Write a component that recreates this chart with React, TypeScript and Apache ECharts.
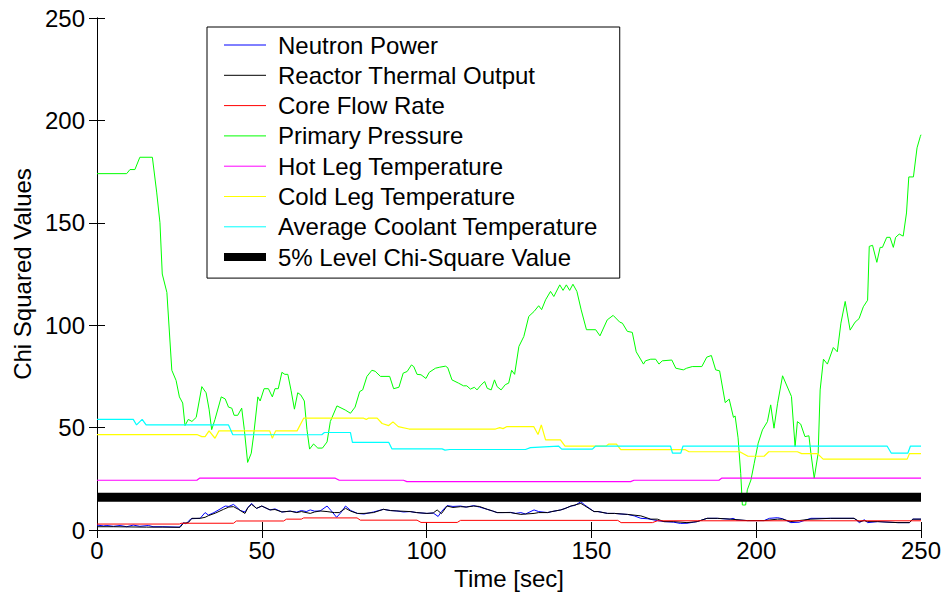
import React, { useEffect, useRef } from "react";
import * as echarts from "echarts";

const xTicks = [0, 50, 100, 150, 200, 250];
const yTicks = [0, 50, 100, 150, 200, 250];

const seriesNames = [
  "Neutron Power",
  "Reactor Thermal Output",
  "Core Flow Rate",
  "Primary Pressure",
  "Hot Leg Temperature",
  "Cold Leg Temperature",
  "Average Coolant Temperature",
  "5% Level Chi-Square Value",
];

const neutronPower: [number, number][] = [
  [0, 2.4], [2, 2.0], [3, 2.2], [5, 1.8], [7, 2.2], [9, 1.6], [11, 2.4], [13, 1.8], [15.6, 2.2], [17, 1.6],
  [20, 1.6], [25, 1.4], [26.2, 3.6], [27, 3.0], [28.5, 5.5], [31.3, 5.7], [32.8, 8.5], [33.8, 7.3], [35.5, 8.5],
  [38.9, 11.7], [40, 11.5], [41.4, 12.5], [42.5, 11], [43.5, 9.5], [44.9, 8.8], [45.8, 11], [46.9, 13], [48.4, 10.5],
  [50, 11.7], [52.5, 9.8], [54, 10.3], [56.1, 8.8], [58.6, 9.2], [60.6, 8.7], [62, 9.5], [63.5, 9], [64.7, 9.8],
  [66, 9.2], [67.7, 9.3], [69.8, 11.7], [71, 9.5], [72.7, 6.2], [74, 8.5], [75.4, 11.7], [77, 9.5], [79, 8.1],
  [81, 7.8], [83.9, 8.8], [86.9, 10.1], [89, 9.5], [91, 9.3], [93, 8.8], [95, 9], [97, 8.5], [100.1, 8.1],
  [102, 8.3], [103.5, 6.6], [104.5, 9], [106.2, 11.9], [108, 11.5], [110.3, 11.7], [112, 11.2], [114.3, 11.9],
  [116, 11.2], [118.4, 10.1], [120, 9.3], [121.4, 8.5], [123, 8.5], [125.5, 8.6], [127, 8.1], [128.6, 8.5],
  [130, 7.8], [132.6, 9.8], [134, 9], [136.7, 8.5], [138, 9], [140.7, 9.8], [142, 10.5], [143.8, 11.7], [145, 12],
  [146.8, 13.8], [148, 12.2], [150.8, 9], [152, 9], [154.9, 8.1], [157, 8.1], [159, 7.8], [161, 7.6], [163, 6.9],
  [165, 5.7], [167, 5.5], [170, 4.6], [172, 4.1], [175, 3.8], [177, 3.2], [179, 3.3], [181, 3.8], [182.1, 4.1],
  [185.1, 5.7], [188.2, 5.7], [192, 5.3], [193, 5.7], [194, 4.9], [197.3, 4.6], [202.4, 4.6], [204, 5.7],
  [206.5, 6], [208, 5.5], [210.5, 3.6], [213, 3.8], [216.6, 5.7], [222.6, 5.7], [229.7, 5.7], [231.3, 3.6],
  [232.8, 5], [233.8, 3.6], [236.9, 4.1], [243, 3.6], [246.5, 3.6], [247.5, 5.3], [250, 5.3],
];

const thermalOutput: [number, number][] = [
  [0, 1.6], [5, 1.6], [10, 1.5], [15, 1.4], [20, 1.4], [25.2, 1.3], [26.2, 3.3], [27.7, 3.6], [28.8, 5.7],
  [31.3, 5.7], [32.8, 6.2], [33.8, 7], [36, 8.3], [38.4, 10.1], [40, 11.2], [41.4, 11.4], [42.9, 10.1], [44.9, 8.1],
  [45.8, 11], [46.9, 12.5], [48.4, 10.6], [50, 11.7], [52.5, 9.8], [54, 10], [56.1, 8.8], [58.6, 9.2], [60.6, 8.5],
  [62, 9], [64.7, 8.1], [66, 8.8], [67.7, 9.3], [69.8, 9], [72, 8.5], [73.5, 8.5], [75.4, 10.6], [77, 9.2],
  [79, 8.1], [81, 8.1], [83.9, 8.5], [86.9, 10.1], [89, 9.5], [91, 9.3], [95, 9], [97, 8.5], [100.1, 8.1],
  [102, 8.3], [103.2, 9.8], [104.5, 8], [106.2, 11.7], [108, 11], [110.3, 11.4], [112, 11.2], [114.3, 11.7],
  [116, 11.5], [118.4, 10.1], [120, 9.3], [121.4, 8.5], [125.5, 8.5], [128.6, 7.6], [130, 7.8], [132.6, 8.1],
  [134, 8.5], [136.7, 8.5], [138, 9], [140.7, 9.8], [142, 10.5], [143.8, 11.7], [146.8, 13], [148, 11.8],
  [150.8, 9], [152, 9], [154.9, 8.1], [157, 8.1], [161, 7.6], [165, 6.9], [168, 5.3], [170, 5.3], [172, 4.1],
  [175, 4.1], [179, 3.6], [182.1, 4.1], [185.1, 5.7], [188.2, 5.7], [192.2, 5.3], [197.3, 4.6], [202.4, 4.6],
  [206.5, 5.3], [208, 5.3], [210.5, 4.1], [213, 4.6], [216.6, 5.3], [222.6, 5.7], [229.7, 5.7], [231.3, 4.1],
  [232.8, 4.6], [233.8, 4.1], [236.9, 4.1], [243, 3.6], [246.5, 3.6], [247.5, 5.3], [250, 5.3],
];

const coreFlowRate: [number, number][] = [
  [0, 2.9], [25, 2.9], [25.5, 3.3], [41.4, 3.3], [42.3, 4.4], [56.6, 4.4], [57.5, 5.3], [62, 5.3], [62.7, 5.9],
  [78.9, 5.9], [79.9, 4.8], [97.1, 4.8], [98.3, 3.7], [109.3, 3.7], [110.3, 4.7], [158, 4.7], [159, 3.6],
  [168.5, 3.6], [170, 4.5], [250, 4.5],
];

const primaryPressure: [number, number][] = [
  [0, 174], [9, 174], [10, 176], [11.5, 176], [13, 182], [16.8, 182], [18.1, 165], [19.1, 150], [19.8, 125],
  [21.2, 116], [22.7, 78], [24, 73], [25, 65], [26, 62], [26.7, 51], [27.7, 54], [28.8, 53], [30.1, 55], [31.8, 70],
  [33.1, 67], [34, 59], [34.8, 49], [35.8, 54], [37.7, 65], [38.9, 64], [39.9, 60], [40.9, 59.5], [41.6, 56],
  [42.7, 56], [43.9, 59.5], [44.7, 49], [45.7, 33], [46.8, 37.5], [47.5, 46], [48.8, 65], [49.5, 63], [50.7, 69],
  [52, 69], [53.2, 65], [54, 69], [55, 69], [56.1, 77], [57, 76], [57.9, 76], [58.9, 68], [59.9, 59], [60.9, 67],
  [61.8, 66], [62.9, 63], [63.7, 49], [64.5, 39.5], [65.7, 42], [67, 40], [68.4, 40], [69.8, 43], [70.8, 53],
  [72.8, 60.6], [75.3, 58.6], [76.9, 57], [78.3, 60], [79.7, 67.6], [80.6, 68.4], [81.9, 75], [83.4, 78],
  [84.4, 77.5], [86, 75], [88.8, 75], [90, 69], [91.6, 69.7], [92.9, 76.6], [94.1, 77.4], [95.4, 80.6],
  [96.1, 79.8], [97.1, 76], [98.3, 75.8], [99.8, 74], [100.8, 77], [102.7, 79], [104, 79.5], [105.7, 80],
  [106.4, 79.3], [107.7, 73.3], [109.7, 71.7], [111.2, 70.4], [112.2, 70.4], [113.3, 68.8], [114.5, 69.7],
  [115.3, 68.4], [116.3, 70.4], [117.6, 72.5], [118.4, 69.2], [119.6, 68.4], [120.6, 73.3], [121.4, 70],
  [122.6, 68.4], [123.9, 71], [124.9, 71.7], [125.8, 78], [126.7, 76], [128, 89.6], [129.5, 94.5], [131, 104.3],
  [132.6, 106.7], [134, 109.5], [134.9, 107.6], [136.1, 112.4], [137.6, 116.5], [138.6, 114], [140.4, 119.7],
  [141.4, 117], [142.4, 119.7], [143.4, 117], [144.4, 120], [145.6, 116.5], [146.9, 107.5], [148.5, 97.8],
  [151.3, 97.8], [152.6, 94.8], [154.8, 102.6], [156.6, 104.8], [158.6, 101.5], [159.4, 101], [160.9, 97],
  [162.4, 96.5], [163.6, 87], [165.8, 81], [166.4, 82.6], [168, 83.4], [169.5, 83.4], [170.5, 81], [171.5, 82.6],
  [174.4, 83], [175.6, 79], [177.9, 78.2], [178.9, 79], [180.6, 79.8], [183.5, 79.8], [185, 84.4], [186.4, 85.2],
  [187.7, 78.2], [188.9, 77.7], [190.6, 62.2], [191.8, 63.9], [193.1, 55], [193.6, 55.7], [194.5, 45],
  [195.3, 27.7], [195.8, 12.2], [196.8, 12.2], [197.3, 19.6], [198.4, 24.4], [199.4, 32.6], [200.6, 42.4],
  [201.9, 48.9], [203.4, 52.9], [204.4, 61.1], [205.4, 49.7], [206.5, 61.9], [208, 75.3], [210.7, 65.2],
  [211.8, 40.7], [212.5, 52.9], [213.5, 51.7], [214.8, 45.6], [216, 46], [216.6, 37.5], [217.6, 25.3],
  [218.8, 37.5], [219.4, 68.4], [220.4, 83.4], [221.6, 81], [223.4, 89.1], [224.6, 87], [225.7, 101],
  [227, 111.6], [228.5, 97.6], [230, 101.5], [231.2, 103.2], [232.5, 109], [233.8, 112.2], [234.3, 138.5],
  [235.3, 139], [236.6, 130.7], [237.6, 138], [238.3, 138], [239.6, 142.9], [240.6, 142.9], [241.6, 138],
  [242.3, 142.9], [243.4, 144.5], [244.6, 143.5], [245.6, 154.8], [246.3, 172.4], [247.7, 172.4], [248.8, 186.6],
  [249.8, 192.2], [250, 193],
];

const hotLegTemp: [number, number][] = [
  [0, 24.3], [30.3, 24.3], [31.1, 25.3], [72.3, 25.3], [73.5, 24.3], [93, 24.3], [94, 23.6], [161.9, 23.6],
  [162.9, 24.3], [188.7, 24.3], [189.5, 25.3], [250, 25.3],
];

const coldLegTemp: [number, number][] = [
  [0, 46.6], [30.3, 46.6], [31.8, 45.6], [32.8, 45.6], [34, 48.4], [35.8, 44.8], [37, 48.4], [52.4, 48.4],
  [53.2, 44.8], [54.2, 48.4], [60.7, 48.4], [62.7, 54.6], [80.9, 54.6], [81.7, 54], [82.3, 54.6], [85, 54.6],
  [86.5, 52], [88.5, 51], [89.8, 52.8], [91.4, 50.5], [94.7, 49.3], [120.9, 49.3], [122.2, 50], [123.2, 49.5],
  [124.4, 50.5], [132.5, 50.5], [133.8, 46.6], [134.8, 51.3], [136.1, 44], [140.6, 44], [142, 41], [154.5, 41],
  [155.2, 41.9], [157.6, 41.9], [158.9, 39.2], [178.5, 39.2], [179.6, 38.2], [195, 38.2], [197.5, 36],
  [202.4, 36], [203.8, 38.2], [212.5, 38.2], [213.8, 37.3], [218.6, 37.3], [220.3, 34.6], [245.8, 34.6],
  [246.5, 37.3], [250, 37.3],
];

const avgCoolantTemp: [number, number][] = [
  [0, 54], [11, 54], [12, 51.3], [13.7, 54], [14.9, 51.3], [39.9, 51.3], [41.2, 46.5], [68.2, 46.5], [69, 47.6],
  [76.9, 47.6], [77.5, 42.8], [88.5, 42.8], [89.5, 39.6], [104.7, 39.6], [105.6, 39], [107, 39.3], [130, 39.3],
  [131.5, 40.2], [140, 41], [141, 39.5], [150.3, 39.5], [151.3, 41], [174, 41], [174.6, 37.5], [177.1, 37.5],
  [177.8, 41], [239.7, 41], [241, 37.5], [246, 37.5], [246.8, 41], [250, 41],
];

const chiSquareLevel: [number, number][] = [
  [0, 16], [250, 16],
];

const seriesData = [
  neutronPower, thermalOutput, coreFlowRate, primaryPressure,
  hotLegTemp, coldLegTemp, avgCoolantTemp, chiSquareLevel,
];
const seriesColors = ["#0000ff", "#000000", "#ff0000", "#00ff00", "#ff00ff", "#ffff00", "#00ffff", "#000000"];
const seriesWidths = [1, 1, 1, 1, 1.2, 1.2, 1.2, 9];

const FONT = "'Liberation Sans', Arial, Helvetica, sans-serif";

export default function App() {
  const ref = useRef<HTMLDivElement>(null);
  useEffect(() => {
    if (!ref.current) return;
    const chart = echarts.init(ref.current, undefined, { renderer: "svg" });
    const axisCommon = {
      type: "value" as const,
      min: 0,
      max: 250,
      interval: 50,
      splitLine: { show: false },
      axisLine: { show: true, lineStyle: { color: "#000", width: 1 } },
      axisTick: { show: true, inside: true, length: 8, lineStyle: { color: "#000", width: 1 } },
    };
    chart.setOption({
      animation: false,
      backgroundColor: "#ffffff",
      textStyle: { fontFamily: FONT },
      grid: { left: 97, right: 25, top: 18, bottom: 68, containLabel: false },
      legend: {
        orient: "vertical",
        left: 207,
        top: 27,
        selectedMode: false,
        itemWidth: 42,
        itemHeight: 14,
        itemGap: 6.3,
        padding: [6, 22, 9, 13],
        borderColor: "#000",
        borderWidth: 1,
        backgroundColor: "#ffffff",
        textStyle: { fontSize: 24, color: "#000", fontFamily: FONT, padding: [0, 0, 0, 7] },
        data: seriesNames.map((n, i) => ({
          name: n,
          itemStyle: { opacity: 0 },
          lineStyle: { width: i === 7 ? 8 : 1 },
        })),
      },
      xAxis: [
        {
          ...axisCommon,
          position: "bottom",
          axisLabel: {
            show: true, fontSize: 24, color: "#000", margin: 8, fontFamily: FONT,
            formatter: (v: number) => (xTicks.includes(v) ? String(v) : ""),
          },
          name: "Time [sec]",
          nameLocation: "middle",
          nameGap: 36,
          nameTextStyle: { fontSize: 24, color: "#000", fontFamily: FONT },
        },
        { ...axisCommon, position: "top", axisLabel: { show: false } },
      ],
      yAxis: [
        {
          ...axisCommon,
          position: "left",
          axisLabel: {
            show: true, fontSize: 24, color: "#000", margin: 12, fontFamily: FONT,
            formatter: (v: number) => (yTicks.includes(v) ? String(v) : ""),
          },
          name: "Chi Squared Values",
          nameLocation: "middle",
          nameGap: 62,
          nameTextStyle: { fontSize: 24, color: "#000", fontFamily: FONT },
        },
        { ...axisCommon, position: "right", axisLabel: { show: false } },
      ],
      series: seriesNames.map((n, i) => ({
        name: n,
        type: "line",
        xAxisIndex: 0,
        yAxisIndex: 0,
        data: seriesData[i],
        symbol: "none",
        showSymbol: false,
        color: seriesColors[i],
        lineStyle: { color: seriesColors[i], width: seriesWidths[i] },
        itemStyle: { color: seriesColors[i] },
        silent: true,
        z: 2 + i,
      })),
    });
    return () => chart.dispose();
  }, []);
  return <div ref={ref} style={{ position: "fixed", left: 0, top: 0, width: 946, height: 598 }} />;
}
